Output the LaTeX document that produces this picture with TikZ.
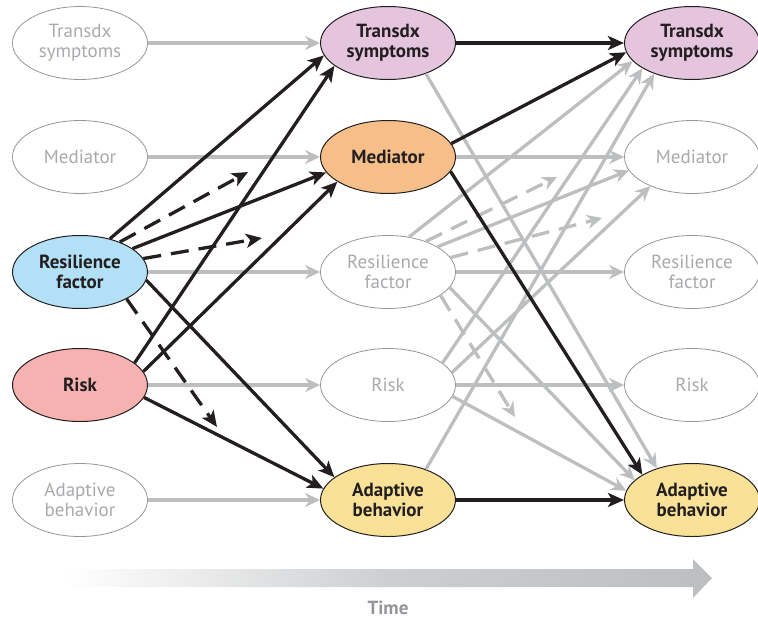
\documentclass[tikz,border=0pt]{standalone}
\usepackage{fontspec}
\setmainfont{PT Sans}
\usetikzlibrary{arrows.meta,shapes.geometric}
\definecolor{lgrey}{HTML}{BCBEC0}
\definecolor{tgrey}{HTML}{A7A9AC}
\definecolor{egrey}{HTML}{939598}
\definecolor{dk}{HTML}{231F20}
\definecolor{cpurple}{HTML}{E5C4DD}
\definecolor{corange}{HTML}{F6BE88}
\definecolor{cblue}{HTML}{B2E0F6}
\definecolor{cpink}{HTML}{F6B2B0}
\definecolor{cyellow}{HTML}{F9E297}
\tikzset{
 ell/.style={ellipse, minimum width=135pt, minimum height=73pt, inner sep=0pt, align=center},
 pale/.style={ell, draw=egrey, line width=0.8pt, text=tgrey, font=\fontsize{19}{20}\selectfont},
 hl/.style={ell, draw=dk, line width=1pt, text=dk, font=\fontsize{19}{20}\selectfont\bfseries},
 blk/.style={draw=dk, line width=3.3pt, -{Stealth[length=16pt,width=14pt,inset=4pt]}},
 gry/.style={draw=lgrey, line width=3.3pt, -{Stealth[length=15pt,width=14pt,inset=5pt]}},
 blkd/.style={blk, dash pattern=on 18pt off 10pt},
 gryd/.style={gry, dash pattern=on 18pt off 10pt},
}
\begin{document}
\begin{tikzpicture}[x=1pt,y=-1pt]
\useasboundingbox (0,0) rectangle (758,619);
% column 1
\node[pale] (T1) at (80,43) {Transdx\\symptoms};
\node[pale] (M1) at (80,157) {Mediator};
\node[hl, fill=cblue] (R1) at (80,272) {Resilience\\factor};
\node[hl, fill=cpink] (K1) at (80,385) {Risk};
\node[pale] (A1) at (80,500) {Adaptive\\behavior};
% column 2
\node[hl, fill=cpurple] (T2) at (388,43) {Transdx\\symptoms};
\node[hl, fill=corange] (M2) at (388,157) {Mediator};
\node[pale] (R2) at (388,272) {Resilience\\factor};
\node[pale] (K2) at (388,385) {Risk};
\node[hl, fill=cyellow] (A2) at (388,500) {Adaptive\\behavior};
% column 3
\node[hl, fill=cpurple] (T3) at (692,43) {Transdx\\symptoms};
\node[pale] (M3) at (692,157) {Mediator};
\node[pale] (R3) at (692,272) {Resilience\\factor};
\node[pale] (K3) at (692,385) {Risk};
\node[hl, fill=cyellow] (A3) at (692,500) {Adaptive\\behavior};

% grey horizontal
\draw[gry] (T1.east) -- (T2.west);
\draw[gry] (M1.east) -- (M2.west);
\draw[gry] (R1.east) -- (R2.west);
\draw[gry] (K1.east) -- (K2.west);
\draw[gry] (A1.east) -- (A2.west);
\draw[gry] (M2.east) -- (M3.west);
\draw[gry] (R2.east) -- (R3.west);
\draw[gry] (K2.east) -- (K3.west);

% grey cross-lag col 2 -> 3
\draw[gry] (T2.-39) -- (A3.138);
\draw[gry] (R2.59) -- (T3.197);
\draw[gry] (R2.27) -- (M3.192);
\draw[gry] (R2.-14) -- (A3.161);
\draw[gry] (K2.22) -- (T3.207);
\draw[gry] (K2.11) -- (M3.215);
\draw[gry] (K2.-10) -- (A3.172);
\draw[gry] (A2.39) -- (T3.219);
\coordinate (e1) at (557,177);
\coordinate (e2) at (602,218);
\coordinate (e3) at (515,417);
\draw[gryd] (R2.39) -- (e1);
\draw[gryd] (R2.13) -- (e2);
\draw[gryd] (R2.-24) -- (e3);

% black col 1 -> 2
\draw[blk] (R1.48) -- (T2.191);
\draw[blk] (K1.22) -- (T2.203);
\draw[blk] (R1.24) -- (M2.194);
\draw[blk] (K1.12) -- (M2.206);
\draw[blk] (R1.-7) -- (A2.157);
\draw[blk] (K1.-11) -- (A2.170);
\coordinate (d1) at (248,172);
\coordinate (d2) at (262,238);
\coordinate (d3) at (217,427);
\draw[blkd] (R1.37) -- (d1);
\draw[blkd] (R1.12) -- (d2);
\draw[blkd] (R1.-30) -- (d3);

% black col 2 -> 3
\draw[blk] (T2.east) -- (T3.west);
\draw[blk] (A2.east) -- (A3.west);
\draw[blk] (M2.12) -- (T3.188);
\draw[blk] (M2.-13) -- (A3.153);

% time arrow
\shade[left color=white, right color=lgrey, middle color=lgrey!75!white]
  (65,569) -- (693,569) -- (693,559) -- (712,578) -- (693,598) -- (693,587) -- (65,587) -- cycle;
\node[text=egrey, font=\fontsize{19}{20}\selectfont\bfseries] (time) at (388,608) {Time};
\end{tikzpicture}
\end{document}
